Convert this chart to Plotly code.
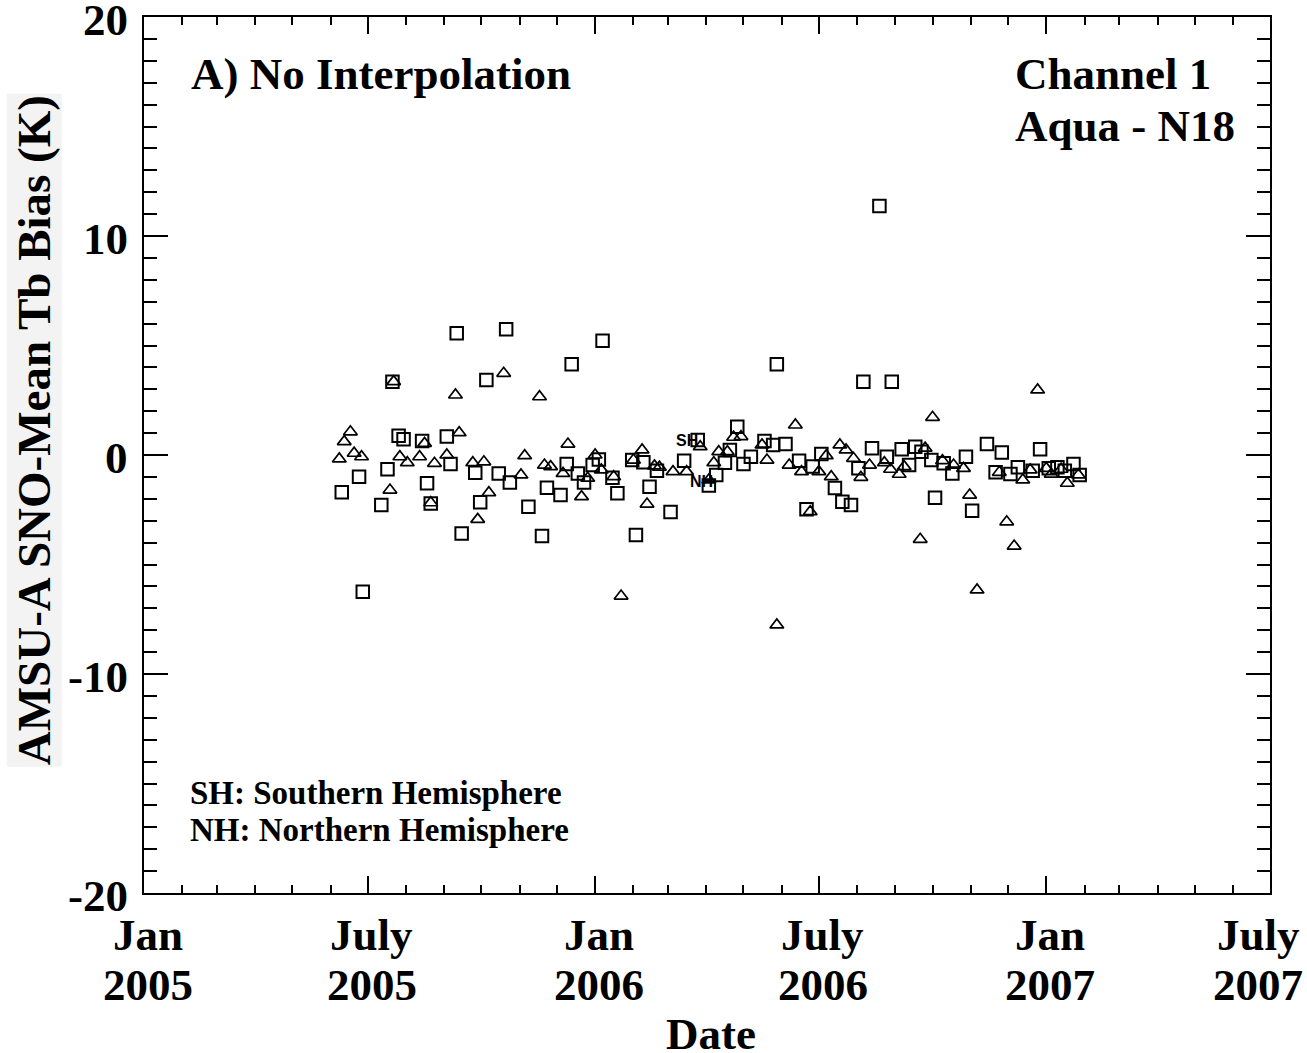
import plotly.graph_objects as go

# SNO mean Tb bias, Aqua minus NOAA-18, AMSU-A channel 1
sh_dates = [
    "2005-06-10", "2005-06-24", "2005-06-27", "2005-07-12", "2005-07-17", "2005-07-21",
    "2005-07-26", "2005-07-30", "2005-08-14", "2005-08-18", "2005-08-21", "2005-09-03",
    "2005-09-06", "2005-09-11", "2005-09-15", "2005-09-26", "2005-09-30", "2005-10-05",
    "2005-10-15", "2005-10-21", "2005-10-24", "2005-11-08", "2005-11-19", "2005-11-23",
    "2005-12-04", "2005-12-09", "2005-12-13", "2005-12-18", "2005-12-23", "2005-12-30",
    "2006-01-04", "2006-01-07", "2006-01-15", "2006-01-19", "2006-01-31", "2006-02-03",
    "2006-02-09", "2006-02-14", "2006-02-20", "2006-03-03", "2006-03-14", "2006-03-25",
    "2006-04-03", "2006-04-09", "2006-04-16", "2006-04-20", "2006-04-26", "2006-05-01",
    "2006-05-07", "2006-05-18", "2006-05-25", "2006-05-28", "2006-06-04", "2006-06-15",
    "2006-06-21", "2006-06-26", "2006-07-03", "2006-07-14", "2006-07-20", "2006-07-27",
    "2006-08-02", "2006-08-06", "2006-08-13", "2006-08-19", "2006-08-25", "2006-08-29",
    "2006-09-06", "2006-09-12", "2006-09-17", "2006-09-22", "2006-09-30", "2006-10-03",
    "2006-10-10", "2006-10-17", "2006-10-28", "2006-11-02", "2006-11-14", "2006-11-21",
    "2006-11-26", "2006-12-03", "2006-12-09", "2006-12-21", "2006-12-27", "2007-01-03",
    "2007-01-10", "2007-01-16", "2007-01-23", "2007-01-28",
]
sh_bias = [
    -1.70, -0.99, -6.24, -2.28, -0.65, 3.35,
    0.88, 0.72, 0.64, -1.29, -2.21, 0.84,
    -0.41, 5.56, -3.58, -0.81, -2.16, 3.42,
    -0.84, 5.74, -1.26, -2.36, -3.70, -1.49,
    -1.83, -0.41, 4.14, -0.84, -1.26, -0.46,
    -0.20, 5.22, -1.04, -1.75, -0.23, -3.65,
    -0.33, -1.45, -0.72, -2.60, -0.26, 0.68,
    -1.39, -0.91, -0.35, 0.23, 1.29, -0.41,
    -0.08, 0.64, 0.46, 4.14, 0.50, -0.26,
    -2.48, -0.53, 0.05, -1.51, -2.13, -2.28,
    -0.61, 3.35, 0.31, 11.37, -0.08, 3.35,
    0.26, -0.46, 0.38, 0.15, -0.23, -1.95,
    -0.38, -0.84, -0.08, -2.54, 0.50, -0.79,
    0.11, -0.87, -0.56, -0.72, 0.26, -0.61,
    -0.56, -0.72, -0.41, -0.91,
]

nh_dates = [
    "2005-06-08", "2005-06-12", "2005-06-17", "2005-06-20", "2005-06-26", "2005-07-19",
    "2005-07-22", "2005-07-27", "2005-08-02", "2005-08-12", "2005-08-16", "2005-08-21",
    "2005-08-24", "2005-09-03", "2005-09-10", "2005-09-13", "2005-09-24", "2005-09-28",
    "2005-10-03", "2005-10-07", "2005-10-19", "2005-11-02", "2005-11-05", "2005-11-17",
    "2005-11-21", "2005-11-26", "2005-12-06", "2005-12-10", "2005-12-21", "2005-12-26",
    "2006-01-01", "2006-01-06", "2006-01-16", "2006-01-22", "2006-02-01", "2006-02-08",
    "2006-02-12", "2006-02-18", "2006-02-22", "2006-03-05", "2006-03-16", "2006-03-27",
    "2006-04-03", "2006-04-07", "2006-04-11", "2006-04-18", "2006-04-23", "2006-04-29",
    "2006-05-16", "2006-05-20", "2006-05-28", "2006-06-07", "2006-06-12", "2006-06-17",
    "2006-06-24", "2006-07-01", "2006-07-07", "2006-07-11", "2006-07-18", "2006-07-23",
    "2006-07-29", "2006-08-04", "2006-08-11", "2006-08-23", "2006-08-28", "2006-09-04",
    "2006-09-08", "2006-09-21", "2006-09-25", "2006-10-01", "2006-10-09", "2006-10-18",
    "2006-10-26", "2006-10-31", "2006-11-06", "2006-11-24", "2006-11-30", "2006-12-06",
    "2006-12-13", "2006-12-19", "2006-12-25", "2007-01-01", "2007-01-05", "2007-01-13",
    "2007-01-18", "2007-01-27",
]
nh_bias = [
    -0.18, 0.61, 1.06, 0.08, -0.08, -1.60,
    3.35, -0.08, -0.35, -0.08, 0.53, -2.18,
    -0.38, 0.00, 2.74, 1.02, -0.35, -2.94,
    -0.31, -1.72, 3.73, -0.91, -0.03, 2.66,
    -0.46, -0.53, -0.84, 0.50, -1.90, -1.06,
    0.00, -0.68, -0.99, -6.44, -0.23, 0.23,
    -2.24, -0.50, -0.56, -0.76, -0.76, 0.38,
    -1.14, -0.35, 0.15, 0.15, 0.81, 0.84,
    0.46, -0.23, -7.76, -0.46, 1.37, -0.76,
    -2.59, -0.76, -0.03, -0.99, 0.46, 0.23,
    -0.15, -1.02, -0.46, -0.35, -0.65, -0.88,
    -0.53, -3.85, 0.31, 1.72, -0.26, -0.46,
    -0.61, -1.83, -6.16, -0.79, -3.05, -4.16,
    -1.14, -0.68, 2.97, -0.61, -0.87, -0.65,
    -1.29, -0.91,
]

# date axis labels, one every six months
tick_dates = ["2005-01-01", "2005-07-01", "2006-01-01", "2006-07-01", "2007-01-01", "2007-07-01"]
tick_months = ["Jan", "July", "Jan", "July", "Jan", "July"]
tick_years = ["2005", "2005", "2006", "2006", "2007", "2007"]

# bias axis labels
y_ticks = [-20, -10, 0, 10, 20]
y_tick_text = ["-20", "-10", "0", "10", "20"]

SERIF = "Liberation Serif"
INK = "#000000"
PLOT_H = 876.0  # plot area height in px, used to place text below the axis


def bold(size, family=SERIF):
    return dict(family=family, size=size, color=INK, weight="bold")


def below(px):
    """Paper y for a point px pixels below the bottom of the plot area."""
    return -px / PLOT_H


fig = go.Figure()
fig.add_trace(go.Scatter(
    x=sh_dates, y=sh_bias, mode="markers", name="SH",
    marker=dict(symbol="square-open", size=12.5, color=INK, line=dict(width=2, color=INK)),
))
fig.add_trace(go.Scatter(
    x=nh_dates, y=nh_bias, mode="markers", name="NH",
    marker=dict(symbol="triangle-up-open", size=12, color=INK, line=dict(width=1.7, color=INK)),
))

annotations = []
last = len(tick_dates) - 1
for i, (d, m, yr) in enumerate(zip(tick_dates, tick_months, tick_years)):
    shift = -12 if i == last else 4
    annotations.append(dict(x=d, y=below(42), xref="x", yref="paper", text=m, showarrow=False,
                            xanchor="center", yanchor="middle", xshift=shift, font=bold(45)))
    annotations.append(dict(x=d, y=below(92), xref="x", yref="paper", text=yr, showarrow=False,
                            xanchor="center", yanchor="middle", xshift=shift, font=bold(45)))

for v, t in zip(y_ticks, y_tick_text):
    annotations.append(dict(x=0, y=v, xref="paper", yref="y", text=t, showarrow=False,
                            xanchor="right", yanchor="middle", xshift=-14, yshift=-3,
                            font=bold(45)))

annotations += [
    dict(x=0.5, y=below(141), xref="paper", yref="paper", text="Date", showarrow=False,
         xanchor="center", yanchor="middle", xshift=4, font=bold(45)),
    dict(x=-0.097, y=0.528, xref="paper", yref="paper", xanchor="center", yanchor="middle",
         text="AMSU-A SNO-Mean Tb Bias (K)", textangle=-90, showarrow=False,
         bgcolor="#f3f3f3", font=bold(47)),
    dict(x=0.04, y=0.935, xref="paper", yref="paper", text="A) No Interpolation",
         showarrow=False, xanchor="left", yanchor="middle", font=bold(45)),
    dict(x=0.7715, y=0.935, xref="paper", yref="paper", text="Channel 1",
         showarrow=False, xanchor="left", yanchor="middle", font=bold(45)),
    dict(x=0.7715, y=0.876, xref="paper", yref="paper", text="Aqua - N18",
         showarrow=False, xanchor="left", yanchor="middle", font=bold(45)),
    dict(x=0.039, y=0.114, xref="paper", yref="paper", text="SH: Southern Hemisphere",
         showarrow=False, xanchor="left", yanchor="middle", font=bold(33)),
    dict(x=0.039, y=0.072, xref="paper", yref="paper", text="NH: Northern Hemisphere",
         showarrow=False, xanchor="left", yanchor="middle", font=bold(33)),
    dict(x="2006-03-16", y=0.68, xref="x", yref="y", text="SH", showarrow=False,
         font=bold(16, "Liberation Sans")),
    dict(x="2006-03-28", y=-1.19, xref="x", yref="y", text="NH", showarrow=False,
         font=bold(16, "Liberation Sans")),
]

fig.update_layout(
    width=1307, height=1053,
    margin=dict(l=144, r=37, t=17, b=160),
    paper_bgcolor="white", plot_bgcolor="white",
    showlegend=False,
    annotations=annotations,
    font=dict(family=SERIF, color=INK),
)
fig.update_xaxes(
    type="date", range=["2005-01-01", "2007-07-01"],
    tickvals=tick_dates, ticks="inside", ticklen=17, tickwidth=2, tickcolor=INK,
    showticklabels=False, showgrid=False, zeroline=False,
    showline=True, linewidth=2, linecolor=INK, mirror="ticks",
    minor=dict(dtick="M1", tick0="2005-01-01", ticks="inside", ticklen=8,
               tickwidth=2, tickcolor=INK, showgrid=False),
)
fig.update_yaxes(
    range=[-20, 20], tickvals=y_ticks,
    ticks="inside", ticklen=24, tickwidth=2, tickcolor=INK,
    showticklabels=False, showgrid=False, zeroline=False,
    showline=True, linewidth=2, linecolor=INK, mirror="ticks",
    minor=dict(dtick=1, ticks="inside", ticklen=13, tickwidth=2, tickcolor=INK, showgrid=False),
)

fig.write_html("out.html")
